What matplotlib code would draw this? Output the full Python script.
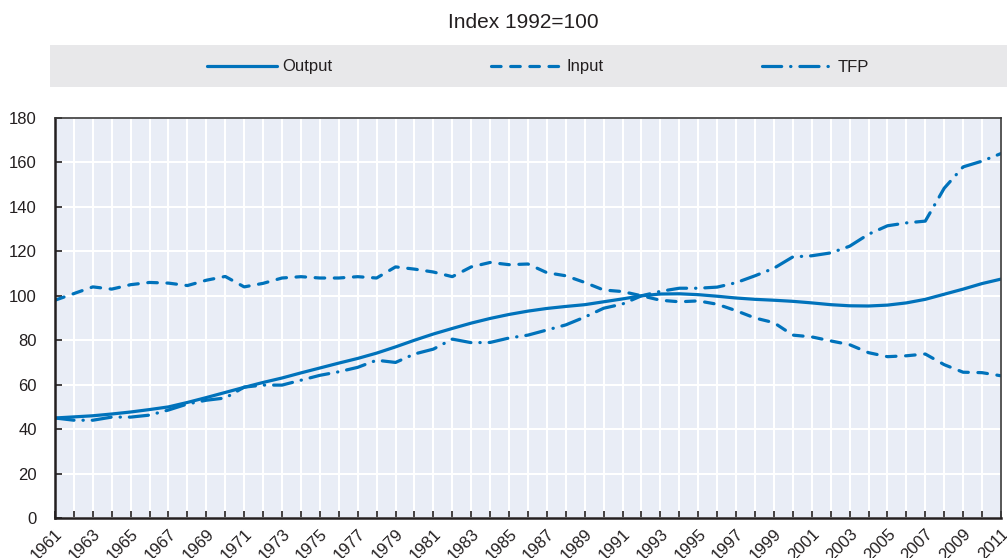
import matplotlib
matplotlib.use("Agg")
import matplotlib.pyplot as plt
from matplotlib.patches import Rectangle

plt.rcParams['font.family'] = ['Liberation Sans Narrow', 'Liberation Sans', 'DejaVu Sans']

years = list(range(1961, 2012))

output = [45.0, 45.5, 46.0, 46.8, 47.7, 48.8, 50.0, 52.0, 54.2, 56.5, 58.8,
          61.0, 63.0, 65.3, 67.5, 69.7, 71.8, 74.2, 77.0, 80.0, 82.8,
          85.3, 87.7, 89.8, 91.6, 93.1, 94.3, 95.2, 96.0, 97.3, 98.6,
          100.0, 100.8, 100.9, 100.5, 99.8, 99.0, 98.4, 98.0, 97.5, 96.8,
          96.0, 95.5, 95.4, 95.8, 96.8, 98.4, 100.7, 103.0, 105.5, 107.5]

inputs = [98.0, 101.0, 104.0, 103.0, 105.0, 106.0, 105.7, 104.6, 107.0, 108.7, 104.0,
          105.6, 108.0, 108.6, 108.0, 108.0, 108.6, 108.0, 113.0, 112.0, 110.7,
          108.6, 113.0, 115.0, 114.0, 114.3, 110.4, 109.0, 106.0, 102.6, 101.9,
          100.0, 98.0, 97.3, 97.7, 96.2, 93.3, 90.0, 87.9, 82.3, 81.5,
          79.7, 78.0, 74.4, 72.6, 73.0, 73.8, 69.0, 65.6, 65.4, 64.0]

tfp = [45.0, 44.0, 44.0, 45.4, 45.4, 46.3, 48.6, 51.3, 53.0, 54.0, 58.9,
       59.8, 59.8, 62.0, 64.2, 65.8, 67.8, 71.0, 70.0, 73.8, 76.0,
       80.5, 78.9, 79.0, 81.0, 82.3, 84.6, 86.9, 90.4, 94.4, 96.3,
       100.0, 102.0, 103.4, 103.4, 103.9, 105.9, 109.0, 112.4, 117.5, 118.0,
       119.3, 122.3, 127.7, 131.5, 132.8, 133.6, 148.4, 158.0, 160.6, 164.0]

blue = "#0072BB"
ink = "#231F20"

fig = plt.figure(figsize=(10.07, 5.58), dpi=100)
ax = fig.add_axes([0.0546, 0.0717, 0.9394, 0.7168])
ax.set_facecolor("#E9EDF6")

ax.plot(years, output, color=blue, lw=2.3, solid_capstyle="round", label="Output")
ax.plot(years, inputs, color=blue, lw=2.3, linestyle=(0, (3.0, 3.0)),
        dash_capstyle="round", label="Input")
ax.plot(years, tfp, color=blue, lw=2.3, linestyle=(0, (6.0, 2.8, 0.1, 2.8)),
        dash_capstyle="round", label="TFP")

ax.set_xlim(1961, 2011)
ax.set_ylim(0, 180)
ax.set_yticks(range(0, 181, 20))
ax.set_xticks(years, minor=True)
ax.set_xticks(years[::2])
ax.set_xticklabels([str(y) for y in years[::2]], rotation=45, ha="right",
                   rotation_mode="anchor", fontsize=12, color=ink)
ax.tick_params(axis="y", labelsize=12, labelcolor=ink, length=5, width=1.2,
               color=ink, direction="in", pad=13)
ax.tick_params(axis="x", which="both", length=5, width=1.2, color=ink,
               direction="in", pad=6)
ax.grid(True, which="both", color="white", lw=1.5)
ax.grid(True, axis="y", color="white", lw=1.5)
ax.set_axisbelow(True)
for side in ["left", "bottom"]:
    ax.spines[side].set_color(ink)
    ax.spines[side].set_linewidth(1.8)
for side in ["top", "right"]:
    ax.spines[side].set_color("#3a3a3a")
    ax.spines[side].set_linewidth(1.2)

# legend band
fig.patches.append(Rectangle((50 / 1007, 1 - 87 / 558), 957 / 1007, 42 / 558,
                             transform=fig.transFigure, facecolor="#E8E8EA",
                             edgecolor="none", zorder=0))
fig.legend(loc="center", bbox_to_anchor=(538 / 1007, 1 - 67 / 558), ncol=3,
           frameon=False, fontsize=12, handlelength=4.2, handletextpad=0.35,
           columnspacing=9.5, labelcolor=ink)

fig.text(523 / 1007, 1 - 22 / 558, "Index 1992=100", ha="center", va="center",
         fontsize=15, color=ink)

fig.savefig("out.png", dpi=100)
